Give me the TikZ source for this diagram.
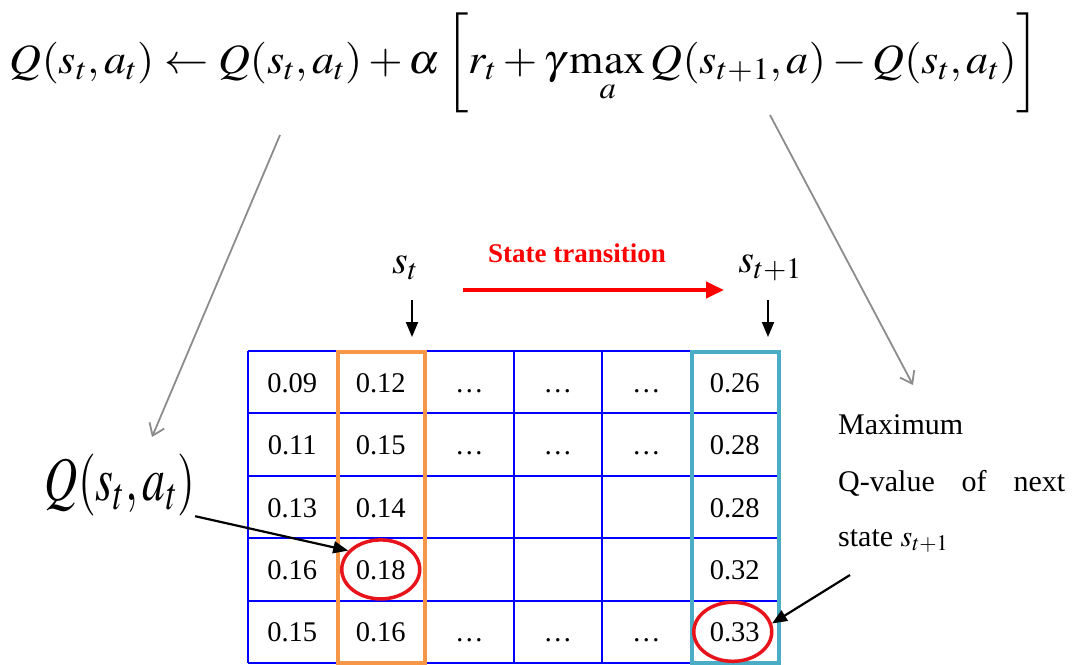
\documentclass[tikz,border=0pt]{standalone}
\usepackage{mathptmx}
\usepackage{fontspec}
\setmainfont{Liberation Serif}
\usetikzlibrary{arrows.meta, positioning, shapes.geometric, calc}
\definecolor{gridBlue}{HTML}{0000FF}
\definecolor{colOrange}{HTML}{F79646}
\definecolor{colCyan}{HTML}{4BACC6}
\definecolor{ringRed}{HTML}{E8141C}
\definecolor{flowRed}{HTML}{FF0000}
\definecolor{leadGray}{HTML}{8C8C8C}
\newcommand{\etcs}{\dots}

\begin{document}
\begin{tikzpicture}[x=1pt, y=-1pt,
    cell/.style={font=\fontsize{28.5}{34}\selectfont, inner sep=0pt,
      text height=20pt, text depth=0pt},
    gridline/.style={draw=gridBlue, line width=2pt},
    colbox/.style={line width=3.5pt},
    hotring/.style={draw=ringRed, ellipse, line width=3.5pt,
      minimum width=78pt, minimum height=59pt},
    pointer/.style={-{Triangle[length=15pt, width=12pt]}, line width=2.2pt},
    lead/.style={draw=leadGray, line width=1.8pt,
      -{Straight Barb[length=11pt, width=16pt, line width=1.8pt]}},
    bigmath/.style={font=\fontsize{54}{60}\selectfont, inner sep=0pt},
    note/.style={font=\fontsize{30}{36}\selectfont, inner sep=0pt, anchor=west}]
  \useasboundingbox (0,0) rectangle (1075,664);

  % update rule
  \node[bigmath] (update) at (525,63)
    {\resizebox*{1030pt}{100pt}{$Q(s_t,a_t)\leftarrow Q(s_t,a_t)+\alpha\left[r_t+\gamma\max\limits_a Q(s_{t+1},a)-Q(s_t,a_t)\right]$}};

  % the Q table
  \foreach \k in {0,...,6}
    \draw[gridline] ({248+88.5*\k},351) -- ({248+88.5*\k},663);
  \foreach \k in {0,...,5}
    \draw[gridline] (248,{351+62.4*\k}) -- (779,{351+62.4*\k});
  \foreach [count=\r] \vals in {{0.09,0.12,\etcs,\etcs,\etcs,0.26},
      {0.11,0.15,\etcs,\etcs,\etcs,0.28},{0.13,0.14,{},{},{},0.28},
      {0.16,0.18,{},{},{},0.32},{0.15,0.16,\etcs,\etcs,\etcs,0.33}}
    \foreach [count=\c] \v in \vals
      \node[cell] (c-\r-\c) at ({248+88.5*(\c-0.5)},{351+62.4*(\r-0.5)}) {\v};
  \draw[colbox, draw=colOrange] (338,352) rectangle (425,663);
  \draw[colbox, draw=colCyan] (692,352) rectangle (779,663);

  \node[hotring] (pick) at (c-4-2) {};
  \node[hotring] (best) at ($(c-5-6)+(-2,0)$) {};

  % states
  \node[font=\fontsize{40}{44}\selectfont, inner sep=0pt] (st) at (405,268) {$s_t$};
  \node[font=\fontsize{40}{44}\selectfont, inner sep=0pt] (snext) at (770,268) {$s_{t+1}$};
  \coordinate (stTip) at (412,337);
  \coordinate (snextTip) at (768,337);
  \draw[pointer, line width=2pt] (stTip |- 0,300) -- (stTip);
  \draw[pointer, line width=2pt] (snextTip |- 0,300) -- (snextTip);
  \coordinate (moveFrom) at (463,290);
  \coordinate (moveTo) at (724,290);
  \draw[flowRed, line width=4pt, -{Triangle[length=18pt, width=16pt]}]
    (moveFrom) -- (moveTo);
  \node[font=\fontsize{27}{30}\selectfont\bfseries, text=flowRed] (trans)
    at (577,253) {State transition};

  % labels
  \node[bigmath] (qcell) at (120,485)
    {\resizebox*{150pt}{62pt}{$Q\mathopen{}\left(s_t,a_t\right)$}};
  \node[note] (maxline) at (838,425) {Maximum};
  \node[note] (qline) at (838,483) {\makebox[227pt][s]{Q-value of next}};
  \node[note] (stateline) at (838,541) {state $s_{t+1}$};

  % connectors
  \coordinate (oldTail) at (280,135);
  \coordinate (oldHead) at (152,437);
  \coordinate (maxTail) at (770,115);
  \coordinate (maxHead) at (913,385);
  \draw[lead] (oldTail) -- (oldHead);
  \draw[lead] (maxTail) -- (maxHead);
  \draw[pointer] (qcell.south east) -- (pick.150);
  \coordinate (noteTail) at (850,575);
  \draw[pointer] (noteTail) -- (best.12);
\end{tikzpicture}
\end{document}
